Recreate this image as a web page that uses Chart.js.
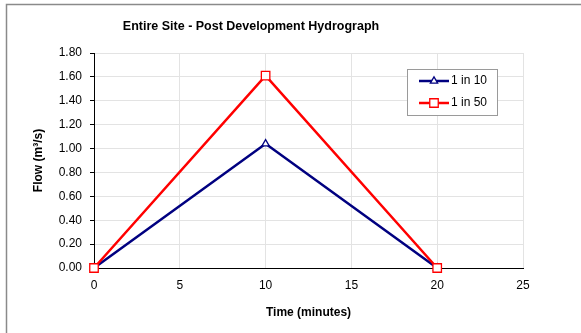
<!DOCTYPE html>
<html>
<head>
<meta charset="utf-8">
<script src="https://cdn.jsdelivr.net/npm/chart.js@4/dist/chart.umd.min.js"></script>
<style>
html,body{margin:0;padding:0;background:#fff;}
#wrap{width:581px;height:333px;position:relative;}
</style>
</head>
<body>
<div id="wrap"><canvas id="c" width="581" height="333"></canvas></div>
<script>
const timeMinutes = [0, 10, 20];
const flow1in10 = [0, 1.04, 0];
const flow1in50 = [0, 1.61, 0];
const seriesLabels = ['1 in 10', '1 in 50'];
const chartTitle = 'Entire Site - Post Development Hydrograph';
const xTitle = 'Time (minutes)';
const yTitle = 'Flow (m\u00B3/s)';

const FONT = '"Liberation Sans", Arial, sans-serif';
const toPts = (xs, ys) => xs.map((x, i) => ({x: x, y: ys[i]}));

const framePlugin = {
  id: 'frame',
  beforeDraw(chart) {
    const ctx = chart.ctx;
    ctx.save();
    ctx.fillStyle = '#fff';
    ctx.fillRect(0, 0, chart.width, chart.height);
    ctx.strokeStyle = '#8a8a8a';
    ctx.lineWidth = 1.5;
    ctx.strokeRect(6.5, 4.5, 1000, 1000);
    ctx.fillStyle = '#000';
    ctx.font = 'bold 12.5px ' + FONT;
    ctx.textAlign = 'center';
    ctx.textBaseline = 'middle';
    ctx.fillText(chartTitle, 251, 27);
    ctx.restore();
  },
  afterDatasetsDraw(chart) {
    const ctx = chart.ctx;
    ctx.save();
    const bx = 407.5, by = 69.5, bw = 90, bh = 46;
    ctx.fillStyle = '#fff';
    ctx.fillRect(bx, by, bw, bh);
    ctx.strokeStyle = '#9a9a9a';
    ctx.lineWidth = 1;
    ctx.strokeRect(bx, by, bw, bh);
    const rowsY = [81, 103];
    chart.data.datasets.slice().sort((a,b)=>a.legendIndex-b.legendIndex).forEach((ds, i) => {
      const y = rowsY[i];
      ctx.strokeStyle = ds.borderColor;
      ctx.lineWidth = ds.borderWidth;
      ctx.beginPath();
      ctx.moveTo(419, y);
      ctx.lineTo(449, y);
      ctx.stroke();
      ctx.fillStyle = ds.pointBackgroundColor;
      ctx.strokeStyle = ds.pointBorderColor;
      ctx.lineWidth = ds.pointBorderWidth;
      ctx.beginPath();
      if (ds.pointStyle === 'rect') {
        const s = Math.SQRT1_2 * ds.pointRadius;
        ctx.rect(434 - s, y - s, 2*s, 2*s);
      } else {
        const r = ds.pointRadius;
        ctx.moveTo(434, y - r);
        ctx.lineTo(434 + r*Math.sin(Math.PI*2/3), y - r*Math.cos(Math.PI*2/3));
        ctx.lineTo(434 - r*Math.sin(Math.PI*2/3), y - r*Math.cos(Math.PI*2/3));
        ctx.closePath();
      }
      ctx.fill();
      ctx.stroke();
      ctx.fillStyle = '#000';
      ctx.font = '12px ' + FONT;
      ctx.textAlign = 'left';
      ctx.textBaseline = 'middle';
      ctx.fillText(ds.label, 451, y);
    });
    ctx.restore();
  }
};

new Chart(document.getElementById('c'), {
  type: 'line',
  data: {
    datasets: [
      {
        label: seriesLabels[0], legendIndex: 0, order: 1, clip: false,
        data: toPts(timeMinutes, flow1in10),
        borderColor: '#000080', borderWidth: 2.5,
        pointStyle: 'triangle', pointRadius: 4.2, pointBorderWidth: 1.3,
        pointBackgroundColor: '#fff', pointBorderColor: '#000080',
        tension: 0
      },
      {
        label: seriesLabels[1], legendIndex: 1, order: 0, clip: false,
        data: toPts(timeMinutes, flow1in50),
        borderColor: '#ff0000', borderWidth: 2.5,
        pointStyle: 'rect', pointRadius: 6, pointBorderWidth: 1.3,
        pointBackgroundColor: '#fff', pointBorderColor: '#ff0000',
        tension: 0
      }
    ]
  },
  options: {
    responsive: false,
    animation: false,
    devicePixelRatio: 1,
    layout: {padding: {top: 53, right: 58, left: 0, bottom: 0}},
    plugins: {legend: {display: false}, title: {display: false}, tooltip: {enabled: false}},
    scales: {
      x: {
        type: 'linear', min: 0, max: 25,
        ticks: {stepSize: 5, color: '#000', font: {family: FONT, size: 12}, padding: 10},
        grid: {color: '#e3e3e3', drawTicks: false, tickLength: 0},
        border: {color: '#000', width: 1},
        title: {display: true, text: xTitle, color: '#000', font: {family: FONT, size: 12, weight: 'bold'}, padding: {bottom: 13, top: 0}},
        afterFit(s) { s.height = 65; }
      },
      y: {
        min: 0, max: 1.8,
        ticks: {stepSize: 0.2, color: '#000', font: {family: FONT, size: 12}, padding: 8,
          callback: v => Number(v).toFixed(2)},
        grid: {color: '#e3e3e3', tickColor: '#000', tickLength: 4},
        border: {color: '#000', width: 1},
        title: {display: true, text: yTitle, color: '#000', font: {family: FONT, size: 12, weight: 'bold'}, padding: {top: 31, bottom: 0}},
        afterFit(s) { s.width = 94; }
      }
    }
  },
  plugins: [framePlugin]
});
</script>
</body>
</html>
